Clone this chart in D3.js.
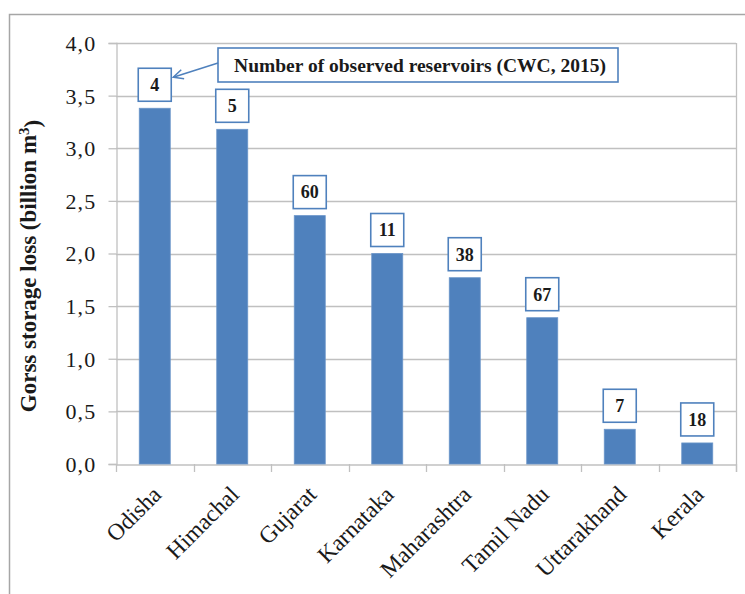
<!DOCTYPE html>
<html>
<head>
<meta charset="utf-8">
<script src="https://cdn.jsdelivr.net/npm/d3@7"></script>
<style>
  html, body { margin: 0; padding: 0; background: #fff; }
  svg { display: block; }
</style>
</head>
<body>
<svg id="chart" width="745" height="594"></svg>
<script>
// States and their gross storage loss (billion m³)
const states = ["Odisha", "Himachal", "Gujarat", "Karnataka", "Maharashtra", "Tamil Nadu", "Uttarakhand", "Kerala"];
const storageLoss = [3.38, 3.18, 2.36, 2.00, 1.77, 1.39, 0.33, 0.20];
// Number of observed reservoirs per state (CWC, 2015)
const reservoirCounts = [4, 5, 60, 11, 38, 67, 7, 18];
const yTicks = [0, 0.5, 1.0, 1.5, 2.0, 2.5, 3.0, 3.5, 4.0];

const svg = d3.select("#chart");
const blue = "#4f81bd";
const grid = "#c0c0c0";
const serif = '"Liberation Serif", "Times New Roman", serif';
const ink = "#1a1a1a";

const plotLeft = 116, plotRight = 736, plotTop = 43, plotBottom = 464;

// Outer chart frame
svg.append("path")
  .attr("d", `M9.5,594 V14.5 H745`)
  .attr("fill", "none").attr("stroke", "#a6a6a6").attr("stroke-width", 1.5);

const x = d3.scaleBand().domain(states).range([plotLeft, plotRight]).paddingInner(0.6).paddingOuter(0.3);
const xOuter = d3.scaleBand().domain(states).range([plotLeft, plotRight]);
const y = d3.scaleLinear().domain([0, 4]).range([plotBottom, plotTop]);

// Horizontal gridlines
svg.append("g").selectAll("line").data(yTicks.filter(d => d > 0)).join("line")
  .attr("x1", plotLeft).attr("x2", plotRight)
  .attr("y1", d => Math.round(y(d)) + 0.5).attr("y2", d => Math.round(y(d)) + 0.5)
  .attr("stroke", grid).attr("stroke-width", 1.3);

// Right edge of plot area
svg.append("line")
  .attr("x1", plotRight + 0.5).attr("x2", plotRight + 0.5).attr("y1", plotTop).attr("y2", plotBottom + 8)
  .attr("stroke", grid).attr("stroke-width", 1.3);

// Y axis
const yAxis = svg.append("g").attr("transform", `translate(${plotLeft + 0.5},0)`)
  .call(d3.axisLeft(y).tickValues(yTicks).tickSize(8).tickPadding(12)
    .tickFormat(d => d3.format(".1f")(d).replace(".", ",")));
yAxis.select(".domain").attr("stroke", grid).attr("stroke-width", 1.3);
yAxis.selectAll(".tick line").attr("stroke", grid).attr("stroke-width", 1.3);
yAxis.selectAll(".tick text")
  .style("font-family", serif).style("font-size", "22px").style("letter-spacing", "1.2px")
  .attr("fill", ink).attr("dy", "0.34em");

// X axis
const xAxis = svg.append("g").attr("transform", `translate(0,${plotBottom + 0.5})`)
  .call(d3.axisBottom(xOuter).tickSize(0).tickFormat(""));
xAxis.select(".domain").attr("stroke", grid).attr("stroke-width", 1.3);
// Category boundary ticks
svg.append("g").selectAll("line").data(d3.range(states.length + 1)).join("line")
  .attr("x1", i => Math.round(plotLeft + i * xOuter.step()) + 0.5)
  .attr("x2", i => Math.round(plotLeft + i * xOuter.step()) + 0.5)
  .attr("y1", plotBottom).attr("y2", plotBottom + 8)
  .attr("stroke", grid).attr("stroke-width", 1.3);

// Category labels, rotated
svg.append("g").selectAll("text").data(states).join("text")
  .attr("transform", d => `translate(${xOuter(d) + xOuter.bandwidth() / 2 + 8},${plotBottom + 32}) rotate(-45)`)
  .attr("text-anchor", "end")
  .style("font-family", serif).style("font-size", "23.5px").attr("fill", ink)
  .text(d => d);

// Bars
svg.append("g").selectAll("rect").data(states).join("rect")
  .attr("x", d => x(d))
  .attr("y", (d, i) => y(storageLoss[i]))
  .attr("width", x.bandwidth())
  .attr("height", (d, i) => y(0) - y(storageLoss[i]))
  .attr("fill", blue)
  .attr("stroke", "#6a95c9").attr("stroke-width", 0.8);

// Reservoir count boxes above bars
const boxW = 33, boxH = 33, gap = 7;
const labels = svg.append("g").selectAll("g").data(states).join("g")
  .attr("transform", (d, i) => `translate(${x(d) + x.bandwidth() / 2},${y(storageLoss[i]) - gap - boxH / 2})`);
labels.append("rect")
  .attr("x", -boxW / 2).attr("y", -boxH / 2).attr("width", boxW).attr("height", boxH)
  .attr("fill", "#fff").attr("stroke", blue).attr("stroke-width", 1.6);
labels.append("text")
  .attr("text-anchor", "middle").attr("dy", "0.35em")
  .style("font-family", serif).style("font-size", "18px").style("font-weight", "bold").attr("fill", ink)
  .text((d, i) => reservoirCounts[i]);

// Callout explaining the boxed numbers
const noteX = 218, noteY = 48, noteW = 400, noteH = 34;
svg.append("rect")
  .attr("x", noteX).attr("y", noteY).attr("width", noteW).attr("height", noteH)
  .attr("fill", "#fff").attr("stroke", blue).attr("stroke-width", 1.6);
svg.append("text")
  .attr("x", noteX + noteW / 2 + 2).attr("y", noteY + noteH / 2)
  .attr("text-anchor", "middle").attr("dy", "0.35em")
  .style("font-family", serif).style("font-size", "19.5px").style("font-weight", "bold").attr("fill", ink)
  .text("Number of observed reservoirs (CWC, 2015)");

// Arrow from callout to first box
const ax0 = noteX, ay0 = noteY + 15;
const firstBoxRight = x(states[0]) + x.bandwidth() / 2 + boxW / 2;
const firstBoxTop = y(storageLoss[0]) - gap - boxH;
const ax1 = firstBoxRight + 2, ay1 = firstBoxTop + 9;
svg.append("line")
  .attr("x1", ax0).attr("y1", ay0).attr("x2", ax1).attr("y2", ay1)
  .attr("stroke", blue).attr("stroke-width", 1.5);
const ang = Math.atan2(ay0 - ay1, ax0 - ax1);
const hl = 11, ha = 0.45;
svg.append("path")
  .attr("d", `M${ax1 + hl * Math.cos(ang - ha)},${ay1 + hl * Math.sin(ang - ha)} L${ax1},${ay1} L${ax1 + hl * Math.cos(ang + ha)},${ay1 + hl * Math.sin(ang + ha)}`)
  .attr("fill", "none").attr("stroke", blue).attr("stroke-width", 1.5);

// Y axis title
svg.append("text")
  .attr("transform", `translate(36,266) rotate(-90)`)
  .attr("text-anchor", "middle")
  .style("font-family", serif).style("font-size", "23px").style("font-weight", "bold").attr("fill", ink)
  .html('Gorss storage loss (billion m<tspan dy="-0.45em" font-size="15px">3</tspan><tspan dy="0.45em">)</tspan>');
</script>
</body>
</html>
